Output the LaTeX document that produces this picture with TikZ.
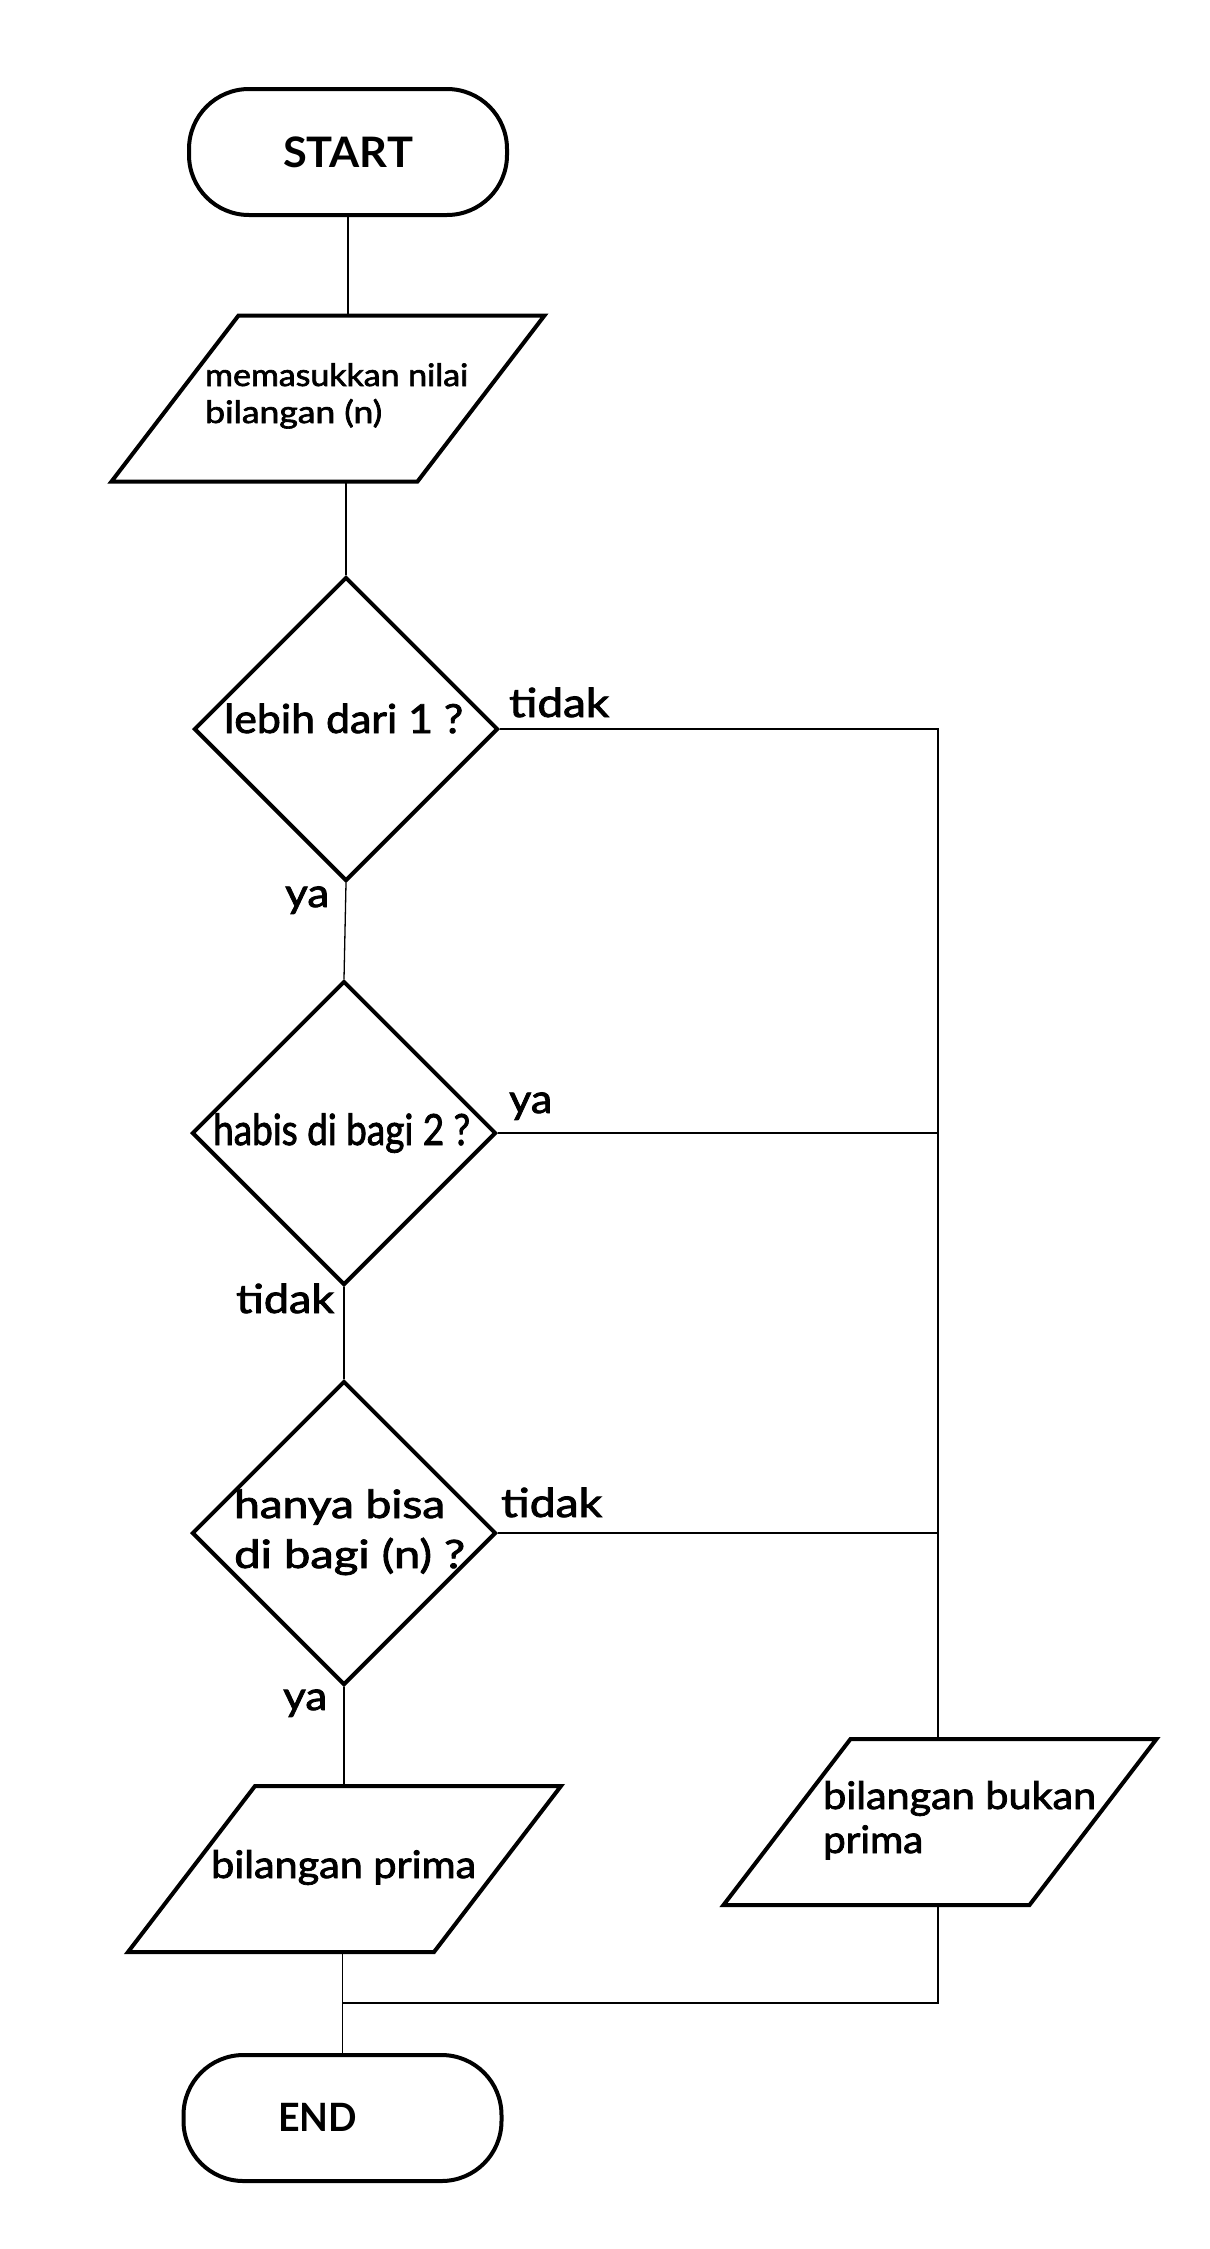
\documentclass[tikz,border=0pt]{standalone}
\usepackage{fontspec}
\setmainfont{Lato}
\newfontfamily\mfont{Lato}[FakeBold=2]
\usetikzlibrary{shapes.geometric}
\newlength\fwtmp
\newcommand\fitw[2]{\settowidth\fwtmp{#2}\pgfmathsetmacro\fwfac{#1/\fwtmp}\scalebox{\fwfac}[1]{#2}}
\tikzset{
  term/.style={draw, line width=4pt, rounded corners=60pt, minimum width=318pt, minimum height=126pt, inner sep=0pt},
  decision/.style={diamond, draw, line width=4pt, aspect=1, minimum width=304pt, minimum height=304pt, inner sep=0pt},
  io/.style={rectangle, minimum width=306pt, minimum height=166pt, inner sep=0pt, outer sep=0pt},
  iobord/.style={draw, line width=4pt, line join=miter},
  conn/.style={line width=1.3pt},
  txt/.style={inner sep=0pt, anchor=base west, align=left},
}
\newcommand\slantbox[1]{\draw[iobord] ([xshift=63.5pt]#1.north west) -- ([xshift=63.5pt]#1.north east) -- ([xshift=-63.5pt]#1.south east) -- ([xshift=-63.5pt]#1.south west) -- cycle;}
\begin{document}
\begin{tikzpicture}[x=1pt, y=-1pt]
\fill[white] (0,0) rectangle (1210,2249);
\useasboundingbox (0,0) rectangle (1210,2249);
% shapes
\node[term, font=\bfseries\fontsize{42}{50}\selectfont] (start) at (348,152) {\fitw{130}{START}};
\node[io] (in1) at (328,398.5) {};
\node[decision] (d1) at (346,729) {};
\node[decision] (d2) at (344,1133) {};
\node[decision] (d3) at (344,1533) {};
\node[io] (prima) at (344.5,1869) {};
\node[io] (bukan) at (940,1822) {};
\node[term] (end) at (342.5,2118) {};
\slantbox{in1}
\slantbox{prima}
\slantbox{bukan}
% texts (multi-line nodes: anchored at the baseline of their last line)
\node[txt, font=\mfont\fontsize{31}{37}\selectfont] (tin1) at (205,423) {\fitw{263}{memasukkan nilai}\\\fitw{177}{bilangan (n)}};
\node[txt, font=\mfont\fontsize{40}{48}\selectfont] (td1) at (224,733) {\fitw{239}{lebih dari 1 ?}};
\node[txt, font=\mfont\fontsize{43}{50}\selectfont] (td2) at (213,1145) {\fitw{257}{habis di bagi 2 ?}};
\node[txt, font=\mfont\fontsize{39}{50}\selectfont] (td3) at (234,1568) {\fitw{211}{hanya bisa}\\\fitw{231}{di bagi (n) ?}};
\node[txt, font=\mfont\fontsize{38}{44}\selectfont] (tprima) at (211,1878) {\fitw{265}{bilangan prima}};
\node[txt, font=\mfont\fontsize{38}{44}\selectfont] (tbukan) at (823,1853) {\fitw{273}{bilangan bukan}\\\fitw{100}{prima}};
\node[txt, font=\bfseries\fontsize{39}{46}\selectfont] (tend) at (278,2131) {\fitw{79}{END}};
% labels
\node[txt, font=\mfont\fontsize{40}{48}\selectfont] (l1) at (509,717) {\fitw{100}{tidak}};
\node[txt, font=\mfont\fontsize{40}{48}\selectfont] (l2) at (285,907) {\fitw{44}{ya}};
\node[txt, font=\mfont\fontsize{40}{48}\selectfont] (l3) at (509,1113) {\fitw{43}{ya}};
\node[txt, font=\mfont\fontsize{40}{48}\selectfont] (l4) at (236,1313) {\fitw{98}{tidak}};
\node[txt, font=\mfont\fontsize{40}{48}\selectfont] (l5) at (501,1517) {\fitw{101}{tidak}};
\node[txt, font=\mfont\fontsize{40}{48}\selectfont] (l6) at (283,1710) {\fitw{44}{ya}};
% connectors
\coordinate (join) at (343,2003);
\coordinate (bus) at (938,0);
\draw[conn] (start.south) -- (start.south |- in1.north);
\draw[conn] (d1.north |- in1.south) -- (d1.north);
\draw[conn] (d1.south) -- (d2.north);
\draw[conn] (d2.south) -- (d3.north);
\draw[conn] (d3.south) -- (d3.south |- prima.north);
\draw[conn] (end.north |- prima.south) -- (end.north);
\draw[conn] (d1.east) -- (d1.east -| bus) -- (bus |- bukan.north);
\draw[conn] (d2.east) -- (d2.east -| bus);
\draw[conn] (d3.east) -- (d3.east -| bus);
\draw[conn] (bus |- bukan.south) -- (bus |- join) -- (join);
\end{tikzpicture}
\end{document}
